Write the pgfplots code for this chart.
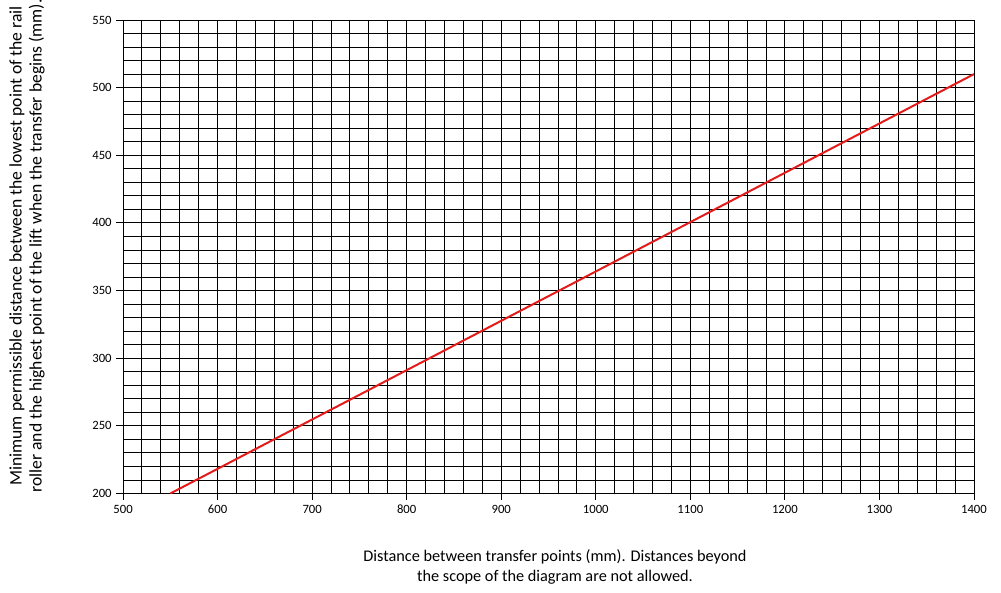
\documentclass[border=0pt]{standalone}
\usepackage{fontspec}
\setmainfont{Carlito}
\usepackage{pgfplots}
\pgfplotsset{compat=1.18}
\definecolor{linered}{HTML}{E41B1B}

\begin{document}
\begin{tikzpicture}
\begin{axis}[
  name=main,
  scale only axis,
  width=638pt,
  height=355pt,
  xmin=500, xmax=1400,
  ymin=200, ymax=550,
  xtick distance=100,
  ytick distance=50,
  minor x tick num=4,
  minor y tick num=4,
  grid=both,
  major grid style={black, line width=0.7pt},
  minor grid style={black, line width=0.7pt},
  axis line style={black, line width=0.7pt},
  tick align=outside,
  xtick pos=bottom,
  ytick pos=left,
  major tick length=5pt,
  minor tick length=0pt,
  tick style={black, line width=0.7pt},
  /pgf/number format/assume math mode=true,
  /pgf/number format/1000 sep={},
  tick label style={font=\fontsize{9.5}{11}\selectfont},
  xlabel={Distance between transfer points (mm). Distances beyond\\the scope of the diagram are not allowed.},
  xlabel style={align=center, font=\fontsize{12.2}{15}\selectfont,
    at={(axis description cs:0.5076,-0.1542)}, anchor=center},
  ylabel={Minimum permissible distance between the lowest point of the rail\\roller and the highest point of the lift when the transfer begins (mm).},
  ylabel style={align=center, font=\fontsize{13.2}{15}\selectfont,
    at={(axis description cs:-0.1129,0.523)}, anchor=center},
]
\addplot[color=linered, line width=1.5pt] coordinates {
  (550, 200)
  (1400, 510)
};
\end{axis}
\pgfresetboundingbox
\path ([xshift=-92.25pt,yshift=-74.25pt]main.south west) rectangle ([xshift=20.25pt,yshift=15pt]main.north east);
\end{tikzpicture}
\end{document}
